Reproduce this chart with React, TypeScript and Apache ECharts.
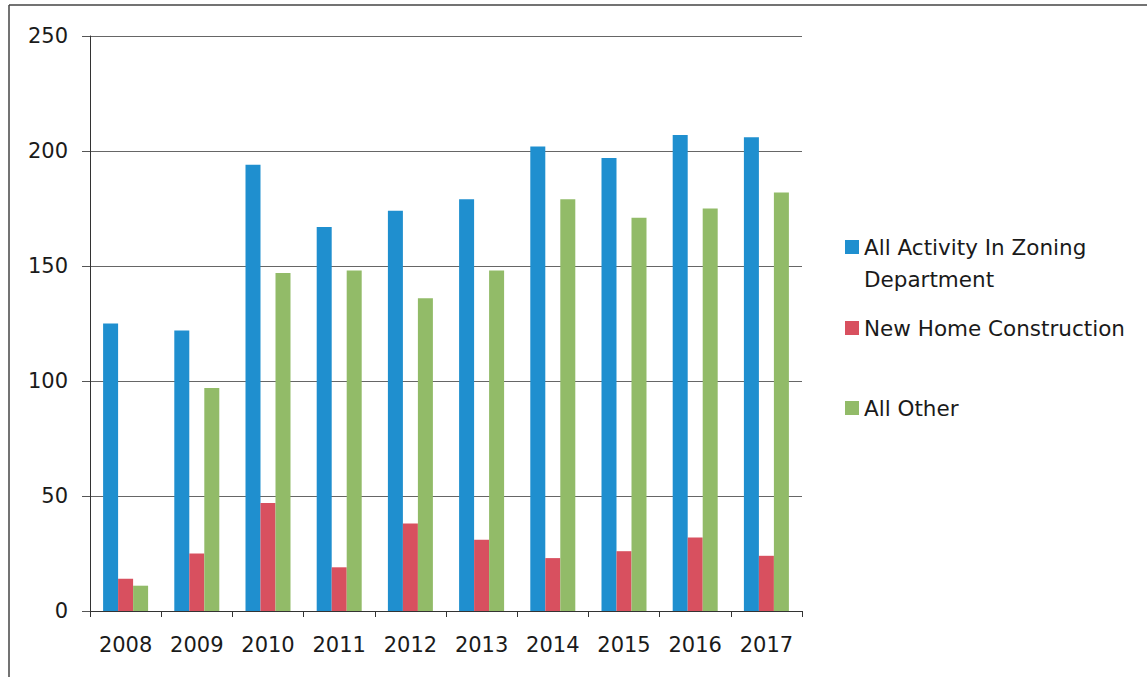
import React, { useEffect, useRef } from "react";
import * as echarts from "echarts";

const years = ["2008", "2009", "2010", "2011", "2012", "2013", "2014", "2015", "2016", "2017"];
const allActivity = [125, 122, 194, 167, 174, 179, 202, 197, 207, 206];
const newHome = [14, 25, 47, 19, 38, 31, 23, 26, 32, 24];
const allOther = [11, 97, 147, 148, 136, 148, 179, 171, 175, 182];
const seriesNames = ["All Activity In Zoning Department", "New Home Construction", "All Other"];
const colors = ["#1f8fcf", "#d8505f", "#92bb68"];

const FONT = "DejaVu Sans";

export default function App() {
  const ref = useRef<HTMLDivElement>(null);
  useEffect(() => {
    if (!ref.current) return;
    const chart = echarts.init(ref.current, null, { renderer: "svg" });
    const legendBase = {
      orient: "vertical" as const,
      left: 840,
      itemWidth: 14,
      itemHeight: 14,
      icon: "rect",
      textStyle: { fontFamily: FONT, fontSize: 21.5, color: "#1a1a1a", lineHeight: 26 },
      selectedMode: false,
    };
    chart.setOption({
      animation: false,
      backgroundColor: "#ffffff",
      textStyle: { fontFamily: FONT },
      grid: { left: 90, top: 36, right: 345, bottom: 66, containLabel: false },
      legend: [
        { ...legendBase, top: 229, data: [seriesNames[0]], formatter: () => "All Activity In Zoning" },
        { ...legendBase, top: 310, data: [seriesNames[1]] },
        { ...legendBase, top: 390, data: [seriesNames[2]] },
      ],
      graphic: [
        { type: "line", shape: { x1: 9, y1: 5, x2: 1147, y2: 5 }, style: { stroke: "#444", lineWidth: 1.5 } },
        { type: "line", shape: { x1: 9, y1: 5, x2: 9, y2: 677 }, style: { stroke: "#444", lineWidth: 1.5 } },
        {
          type: "text",
          left: 864,
          top: 268,
          style: { text: "Department", fontFamily: FONT, fontSize: 21.5, fill: "#1a1a1a" },
        },
      ],
      xAxis: {
        type: "category",
        data: years,
        boundaryGap: true,
        axisLine: { lineStyle: { color: "#333", width: 1 } },
        axisTick: { show: true, length: 6, lineStyle: { color: "#333" }, alignWithLabel: false },
        axisLabel: { fontFamily: FONT, fontSize: 21, color: "#1a1a1a", margin: 23 },
      },
      yAxis: {
        type: "value",
        min: 0,
        max: 250,
        interval: 50,
        axisLine: { show: true, lineStyle: { color: "#333", width: 1 } },
        axisTick: { show: true, length: 8, lineStyle: { color: "#555" } },
        axisLabel: { fontFamily: FONT, fontSize: 21, color: "#1a1a1a", margin: 22 },
        splitLine: { lineStyle: { color: "#666", width: 1 } },
      },
      series: [
        { name: seriesNames[0], type: "bar", data: allActivity, itemStyle: { color: colors[0] }, barWidth: 15, barGap: "0%" },
        { name: seriesNames[1], type: "bar", data: newHome, itemStyle: { color: colors[1] }, barWidth: 15, barGap: "0%" },
        { name: seriesNames[2], type: "bar", data: allOther, itemStyle: { color: colors[2] }, barWidth: 15, barGap: "0%" },
      ],
    });
    return () => chart.dispose();
  }, []);
  return (
    <div
      ref={ref}
      style={{ position: "absolute", left: 0, top: 0, width: 1147, height: 677 }}
    />
  );
}
